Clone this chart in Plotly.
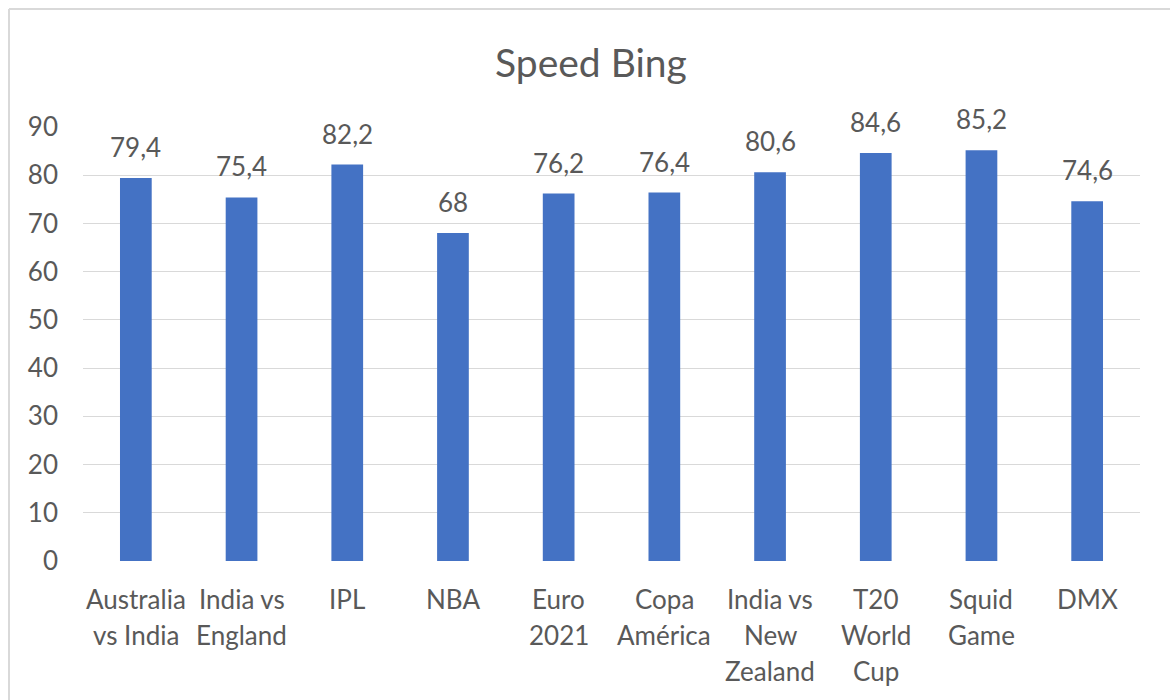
import plotly.graph_objects as go

categories = ["Australia vs India", "India vs England", "IPL", "NBA", "Euro 2021",
              "Copa América", "India vs New Zealand", "T20 World Cup", "Squid Game", "DMX"]
label_lines = [["Australia", "vs India"], ["India vs", "England"], ["IPL"], ["NBA"],
               ["Euro", "2021"], ["Copa", "América"], ["India vs", "New", "Zealand"],
               ["T20", "World", "Cup"], ["Squid", "Game"], ["DMX"]]
values = [79.4, 75.4, 82.2, 68, 76.2, 76.4, 80.6, 84.6, 85.2, 74.6]
y_ticks = [0, 10, 20, 30, 40, 50, 60, 70, 80, 90]

FONT = "Lato"
GRAY = "#595959"
FS = 26

fig = go.Figure(go.Bar(x=categories, y=values, marker_color="#4472C4",
                       marker_line_width=0, hoverinfo="skip"))

annotations = []
for c, v in zip(categories, values):
    txt = f"{v:g}".replace(".", ",")
    annotations.append(dict(x=c, y=v, xref="x", yref="y", text=txt, showarrow=False,
                            yanchor="bottom", yshift=13,
                            font=dict(family=FONT, size=FS, color=GRAY)))
for c, lines in zip(categories, label_lines):
    for i, ln in enumerate(lines):
        annotations.append(dict(x=c, y=0, xref="x", yref="paper", text=ln, showarrow=False,
                                yanchor="middle", yshift=-(38 + 36 * i),
                                font=dict(family=FONT, size=FS, color=GRAY)))

fig.update_layout(
    width=1170, height=700,
    margin=dict(l=83, r=30, t=127, b=139),
    paper_bgcolor="white", plot_bgcolor="white",
    title=dict(text="Speed Bing", x=591 / 1170, xanchor="center", y=1 - 63 / 700,
               yanchor="middle", font=dict(family=FONT, size=39, color=GRAY)),
    bargap=0.70,
    showlegend=False,
    annotations=annotations,
    xaxis=dict(showticklabels=False, showline=False, showgrid=False, zeroline=False),
    yaxis=dict(range=[0, 90], tickvals=y_ticks, showgrid=True, gridcolor="#d9d9d9",
               gridwidth=1.3, zeroline=False, showline=False,
               tickfont=dict(family=FONT, size=FS, color=GRAY), ticklabelstandoff=24),
    shapes=[
        dict(type="line", xref="paper", yref="paper", x0=-74 / 1057, x1=1.2,
             y0=1 + 118 / 434, y1=1 + 118 / 434, line=dict(color="#d9d9d9", width=2)),
        dict(type="line", xref="paper", yref="paper", x0=-74 / 1057, x1=-74 / 1057,
             y0=1 + 118 / 434, y1=-0.5, line=dict(color="#d9d9d9", width=2)),
    ],
)

fig.write_html("out.html")
